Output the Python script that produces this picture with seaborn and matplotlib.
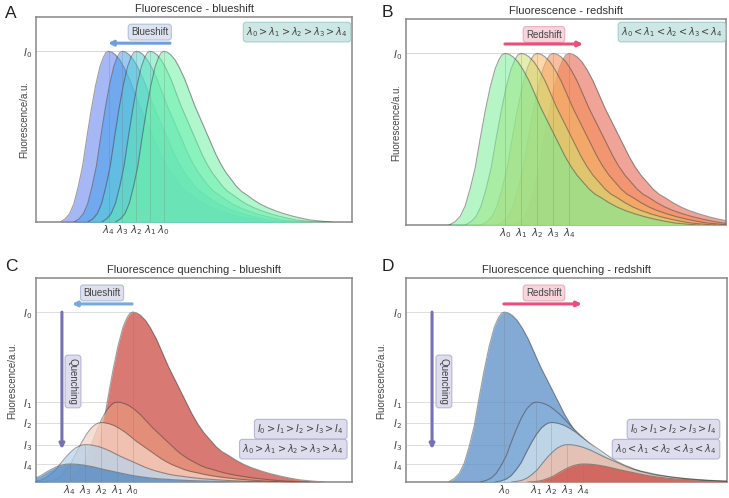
import matplotlib.pyplot as plt
import pandas as pd
import seaborn as sns

# Emission profile: offset from the peak (nm) and relative intensity
profile_offset = [-56, -50, -45, -40, -35, -30, -25, -20, -15, -10, -6, -3, 0, 4, 8, 13, 18, 24, 30, 36,
                  42, 48, 54, 60, 66, 72, 78, 84, 90, 96, 104, 112, 120, 130, 140, 150, 160, 170, 185, 195]
profile_value = [0.00, 0.02, 0.05, 0.11, 0.21, 0.33, 0.50, 0.66, 0.80, 0.91, 0.965, 0.992, 1.00, 0.995,
                 0.98, 0.95, 0.905, 0.84, 0.76, 0.68, 0.61, 0.54, 0.47, 0.40, 0.34, 0.29, 0.25, 0.21,
                 0.18, 0.16, 0.13, 0.105, 0.085, 0.065, 0.048, 0.034, 0.022, 0.012, 0.004, 0.00]

states = ["0", "1", "2", "3", "4"]

# Peak wavelengths (nm) of states 0..4 for each panel
peaks_a = [528, 512, 496, 480, 464]
peaks_b = [499, 515, 531, 547, 563]
peaks_c = [498, 482, 466, 450, 434]
peaks_d = [498, 530, 545, 561, 577]

# Peak heights of states 0..4
heights_shift = [1.0, 1.0, 1.0, 1.0, 1.0]
heights_quench = [1.0, 0.47, 0.35, 0.22, 0.106]

XLIM_A = (380, 746)
XLIM = (400, 720)
YLIM = (0, 1.2)

sns.set_theme(style="white")
plt.rcParams["font.family"] = ["Liberation Sans", "DejaVu Sans"]
plt.rcParams["text.color"] = "#333333"


def spectra(peaks, heights):
    rows = []
    for state, peak, height in zip(states, peaks, heights):
        for off, val in zip(profile_offset, profile_value):
            rows.append({"state": state, "wavelength": peak + off, "intensity": height * val})
    return pd.DataFrame(rows)


def draw_panel(ax, peaks, heights, colors, order, alpha, title, ylabel_x, quench, xlim=XLIM):
    df = spectra(peaks, heights)
    for z, state in enumerate(order):
        g = df[df["state"] == state]
        c = colors[states.index(state)]
        ax.fill_between(g["wavelength"], g["intensity"], color=c, alpha=alpha, lw=0, zorder=2 + z)
        sns.lineplot(x=g["wavelength"].values, y=g["intensity"].values, ax=ax, color="#404040",
                     lw=0.8, alpha=0.5, zorder=2 + z)

    ax.hlines(heights, xlim[0], peaks, color="#d8d8d8", lw=0.6, zorder=1)
    ax.vlines(peaks, 0, heights, color="#777777", lw=0.6, alpha=0.3, zorder=20)

    ax.set_xlim(*xlim)
    ax.set_ylim(*YLIM)
    ax.set_xticks(peaks, [rf"$\lambda_{s}$" for s in states])
    if quench:
        ax.set_yticks(heights, [rf"$I_{s}$" for s in states])
    else:
        ax.set_yticks([1.0], [r"$I_0$"])
    ax.tick_params(axis="y", length=0, pad=3, labelsize=7.5, colors="#444444")
    ax.tick_params(axis="x", length=0, pad=1, labelsize=7.5, colors="#444444")
    ax.set_xlabel("")
    ax.set_ylabel("Fluorescence/a.u.", fontsize=7, color="#444444")
    ax.yaxis.set_label_coords(ylabel_x, 0.5)
    ax.set_title(title, fontsize=8, pad=3.5, color="#333333")
    for sp in ax.spines.values():
        sp.set_color("#888888")
        sp.set_linewidth(1.1)


def label_box(ax, x, y, text, fc, ec, ha="center", rotation=0):
    ax.text(x, y, text, transform=ax.transAxes, ha=ha, va="center", fontsize=7, color="#444444",
            rotation=rotation, zorder=30,
            bbox=dict(boxstyle="round,pad=0.3", fc=fc, ec=ec, lw=0.8, alpha=0.85))


def arrow(ax, start, end, color):
    ax.annotate("", xy=end, xytext=start, xycoords="axes fraction", textcoords="axes fraction",
                arrowprops=dict(arrowstyle="-|>", color=color, lw=2.2, mutation_scale=7,
                                shrinkA=0, shrinkB=0), zorder=30)


fig = plt.figure(figsize=(7.29, 4.98), dpi=100)
ax_a = fig.add_axes([0.0494, 0.554, 0.4335, 0.4116])
ax_b = fig.add_axes([0.557, 0.548, 0.439, 0.4137])
ax_c = fig.add_axes([0.0494, 0.0321, 0.4335, 0.4096])
ax_d = fig.add_axes([0.557, 0.0321, 0.440, 0.4096])

colors_a = ["#72f2a6", "#62e8b8", "#54cfd8", "#479feb", "#5c7cee"]
colors_b = ["#78ee98", "#cfdd72", "#f6b866", "#f28c52", "#e45a44"]
colors_c = ["#cc4c44", "#e8967a", "#f5d3c4", "#b8d3ea", "#4f86c2"]
colors_d = ["#5a8ec8", "#86b2da", "#d2e2ee", "#f0bba3", "#cc4c44"]

draw_panel(ax_a, peaks_a, heights_shift, colors_a, states[::-1], 0.55,
           "Fluorescence - blueshift", -0.022, False, XLIM_A)
draw_panel(ax_b, peaks_b, heights_shift, colors_b, states[::-1], 0.55,
           "Fluorescence - redshift", -0.016, False)
draw_panel(ax_c, peaks_c, heights_quench, colors_c, states, 0.75,
           "Fluorescence quenching - blueshift", -0.06, True)
draw_panel(ax_d, peaks_d, heights_quench, colors_d, states, 0.75,
           "Fluorescence quenching - redshift", -0.062, True)

# A
label_box(ax_a, 0.36, 0.927, "Blueshift", "#d8e0ee", "#a9b9d2")
arrow(ax_a, (0.424, 0.873), (0.228, 0.873), "#6f9fd8")
label_box(ax_a, 0.826, 0.927, r"$\lambda_0 > \lambda_1 > \lambda_2 > \lambda_3 > \lambda_4$", "#c5e3e0", "#9ccac6")
# B
label_box(ax_b, 0.431, 0.925, "Redshift", "#f7cdd8", "#eaa5b5")
arrow(ax_b, (0.309, 0.879), (0.553, 0.879), "#e8507a")
label_box(ax_b, 0.831, 0.937, r"$\lambda_0 < \lambda_1 < \lambda_2 < \lambda_3 < \lambda_4$", "#c5e3e0", "#9ccac6")
# C
label_box(ax_c, 0.209, 0.927, "Blueshift", "#d6dcea", "#a9b5cf")
arrow(ax_c, (0.304, 0.873), (0.114, 0.873), "#7aa8d8")
arrow(ax_c, (0.082, 0.833), (0.082, 0.161), "#7670b8")
label_box(ax_c, 0.117, 0.493, "Quenching", "#d9d7ea", "#b0acd0", rotation=270)
label_box(ax_c, 0.975, 0.259, r"$I_0 > I_1 > I_2 > I_3 > I_4$", "#d9d7ea", "#b0acd0", ha="right")
label_box(ax_c, 0.975, 0.161, r"$\lambda_0 > \lambda_1 > \lambda_2 > \lambda_3 > \lambda_4$", "#d9d7ea", "#b0acd0", ha="right")
# D
label_box(ax_d, 0.430, 0.927, "Redshift", "#f7cdd8", "#eaa5b5")
arrow(ax_d, (0.305, 0.873), (0.548, 0.873), "#e8507a")
arrow(ax_d, (0.081, 0.833), (0.081, 0.161), "#7670b8")
label_box(ax_d, 0.118, 0.493, "Quenching", "#d9d7ea", "#b0acd0", rotation=270)
label_box(ax_d, 0.969, 0.259, r"$I_0 > I_1 > I_2 > I_3 > I_4$", "#d9d7ea", "#b0acd0", ha="right")
label_box(ax_d, 0.969, 0.161, r"$\lambda_0 < \lambda_1 < \lambda_2 < \lambda_3 < \lambda_4$", "#d9d7ea", "#b0acd0", ha="right")

for letter, x, y in [("A", 0.007, 0.972), ("B", 0.523, 0.975), ("C", 0.007, 0.465), ("D", 0.523, 0.465)]:
    fig.text(x, y, letter, fontsize=12.5, color="#222222", va="center")

fig.savefig("out.png", dpi=100)
